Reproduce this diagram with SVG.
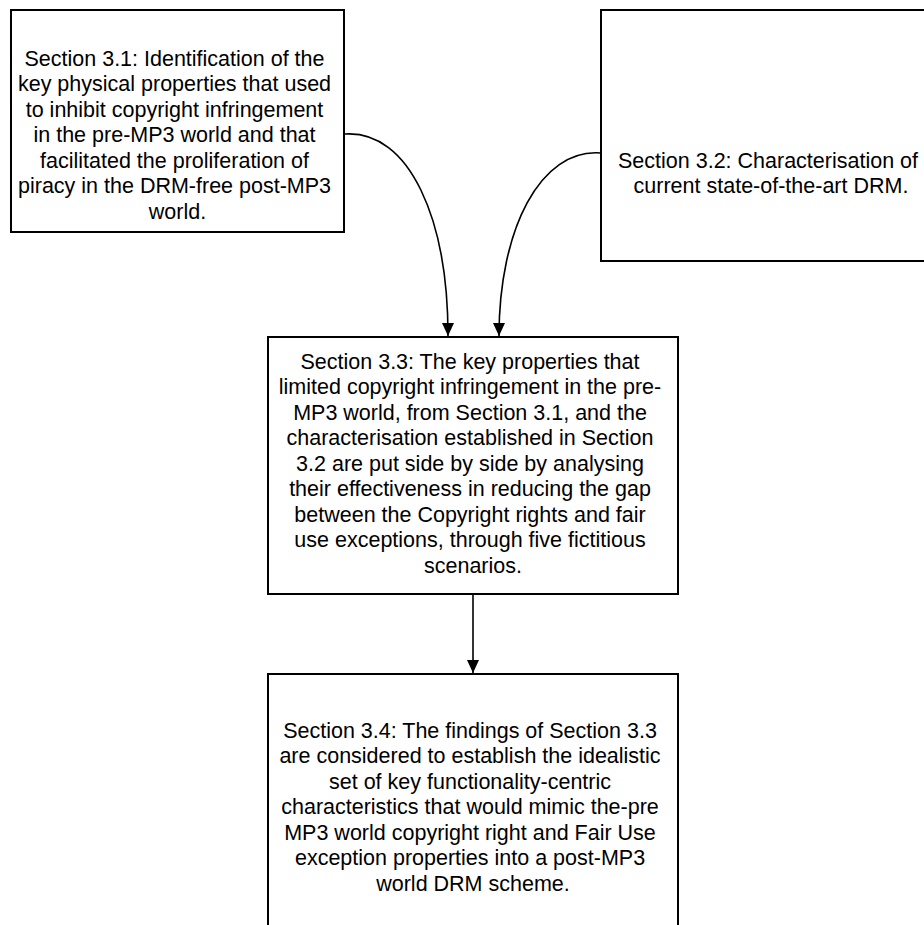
<svg xmlns="http://www.w3.org/2000/svg" width="924" height="925" viewBox="0 0 924 925">
  <style>
    .box { fill: #ffffff; stroke: #000000; stroke-width: 2; }
    .label { font-family: "Liberation Sans", Arial, sans-serif; font-size: 21.5px; fill: #000000; text-anchor: middle; }
    .link { fill: none; stroke: #000000; stroke-width: 1.6; marker-end: url(#arrow); }
  </style>
  <defs>
    <!-- filled arrowhead, tip sits exactly on the end point of the path -->
    <marker id="arrow" markerUnits="userSpaceOnUse" viewBox="0 0 13 12" refX="13" refY="6" markerWidth="13" markerHeight="12" orient="auto">
      <path d="M0,0 L13,6 L0,12 Z" fill="#000000"/>
    </marker>
  </defs>
  <rect width="924" height="925" fill="#ffffff"/>

  <g id="connectors">
    <path class="link" d="M345,134 C410,130 448,220 448,336"/>
    <path class="link" d="M601,153 C540,148 499,230 499,336"/>
    <path class="link" d="M473,594 L473,673"/>
  </g>

  <g id="section-3-1">
    <rect class="box" x="11" y="10" width="333" height="222"/>
    <text class="label">
      <tspan x="177.5" y="65.5">Section 3.1: Identification of the</tspan>
      <tspan x="177.5" y="91">key physical properties that used</tspan>
      <tspan x="177.5" y="116.5">to inhibit copyright infringement</tspan>
      <tspan x="177.5" y="142">in the pre-MP3 world and that</tspan>
      <tspan x="177.5" y="167.5">facilitated the proliferation of</tspan>
      <tspan x="177.5" y="193">piracy in the DRM-free post-MP3</tspan>
      <tspan x="177.5" y="218.5">world.</tspan>
    </text>
  </g>

  <g id="section-3-2">
    <rect class="box" x="601" y="10" width="340" height="251"/>
    <text class="label">
      <tspan x="771" y="167.5">Section 3.2: Characterisation of</tspan>
      <tspan x="771" y="193">current state-of-the-art DRM.</tspan>
    </text>
  </g>

  <g id="section-3-3">
    <rect class="box" x="268" y="337" width="410" height="257"/>
    <text class="label">
      <tspan x="473" y="368.5">Section 3.3: The key properties that</tspan>
      <tspan x="473" y="394">limited copyright infringement in the pre-</tspan>
      <tspan x="473" y="419.5">MP3 world, from Section 3.1, and the</tspan>
      <tspan x="473" y="445">characterisation established in Section</tspan>
      <tspan x="473" y="470.5">3.2 are put side by side by analysing</tspan>
      <tspan x="473" y="496">their effectiveness in reducing the gap</tspan>
      <tspan x="473" y="521.5">between the Copyright rights and fair</tspan>
      <tspan x="473" y="547">use exceptions, through five fictitious</tspan>
      <tspan x="473" y="572.5">scenarios.</tspan>
    </text>
  </g>

  <g id="section-3-4">
    <rect class="box" x="268" y="674" width="410" height="270"/>
    <text class="label">
      <tspan x="473" y="737.5">Section 3.4: The findings of Section 3.3</tspan>
      <tspan x="473" y="763">are considered to establish the idealistic</tspan>
      <tspan x="473" y="788.5">set of key functionality-centric</tspan>
      <tspan x="473" y="814">characteristics that would mimic the-pre</tspan>
      <tspan x="473" y="839.5">MP3 world copyright right and Fair Use</tspan>
      <tspan x="473" y="865">exception properties into a post-MP3</tspan>
      <tspan x="473" y="890.5">world DRM scheme.</tspan>
    </text>
  </g>
</svg>
